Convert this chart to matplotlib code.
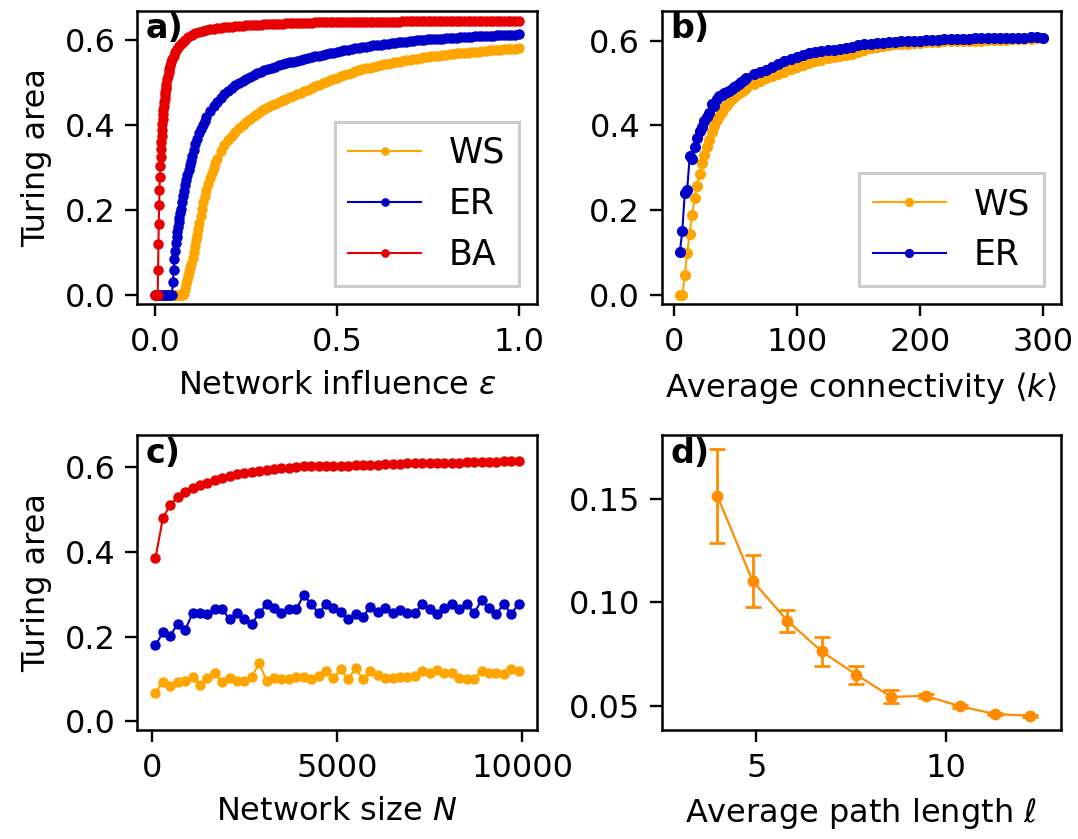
import matplotlib
matplotlib.use("Agg")
import matplotlib.pyplot as plt

OUTPUT_PATH = "out.png"

WS_COLOR = "#ffa500"
ER_COLOR = "#0000c8"
BA_COLOR = "#e60000"
PATH_COLOR = "#ff8c00"

# ---- panel a: Turing area vs network influence eps ----
# the rise of each curve is sampled on its own grid, the tail (eps >= 0.17) on a shared one
EPS_WS_HEAD = [0, 0.005, 0.01, 0.015, 0.02, 0.025, 0.03, 0.035, 0.04, 0.045, 0.05, 0.055, 0.06, 0.065, 0.07, 0.075,
               0.078, 0.081, 0.084, 0.087, 0.090, 0.093, 0.096, 0.099, 0.102, 0.105, 0.108, 0.111, 0.114, 0.117,
               0.120, 0.124, 0.128, 0.132, 0.136, 0.140, 0.145, 0.150, 0.155, 0.160, 0.165]
AREA_WS_HEAD = [0, 0, 0, 0, 0, 0, 0, 0, 0, 0, 0, 0, 0, 0, 0, 0,
                0.005, 0.015, 0.026, 0.036, 0.046, 0.055, 0.063, 0.074, 0.088, 0.102, 0.116, 0.129, 0.142, 0.156,
                0.169, 0.186, 0.203, 0.220, 0.234, 0.247, 0.261, 0.275, 0.288, 0.300, 0.311]

EPS_ER_HEAD = [0, 0.005, 0.01, 0.015, 0.02, 0.025, 0.03, 0.035, 0.04, 0.045,
               0.048, 0.050, 0.052, 0.054, 0.056, 0.058, 0.060, 0.062, 0.064, 0.066, 0.068, 0.070,
               0.073, 0.076, 0.079, 0.082, 0.085, 0.088, 0.091, 0.094, 0.097, 0.100,
               0.105, 0.110, 0.115, 0.120, 0.125, 0.130, 0.135, 0.140, 0.15, 0.16]
AREA_ER_HEAD = [0, 0, 0, 0, 0, 0, 0, 0, 0, 0,
                0.030, 0.060, 0.085, 0.105, 0.122, 0.136, 0.148, 0.160, 0.171, 0.182, 0.193, 0.203,
                0.218, 0.233, 0.246, 0.259, 0.271, 0.283, 0.295, 0.306, 0.316, 0.326,
                0.341, 0.355, 0.368, 0.380, 0.391, 0.401, 0.410, 0.418, 0.432, 0.444]

EPS_BA_HEAD = [0, 0.003, 0.006, 0.007, 0.008, 0.009, 0.010, 0.011, 0.012, 0.013, 0.014, 0.015, 0.016, 0.017,
               0.018, 0.019, 0.020, 0.021, 0.022, 0.023, 0.024, 0.025, 0.026, 0.027, 0.028, 0.029, 0.030,
               0.032, 0.034, 0.036, 0.038, 0.040, 0.043, 0.046, 0.050, 0.055, 0.060, 0.065, 0.070, 0.075,
               0.080, 0.090, 0.100, 0.11, 0.12, 0.13, 0.14, 0.15, 0.16]
AREA_BA_HEAD = [0, 0, 0, 0.060, 0.120, 0.167, 0.212, 0.248, 0.277, 0.304, 0.324, 0.344, 0.360, 0.375,
                0.389, 0.402, 0.414, 0.425, 0.435, 0.445, 0.454, 0.462, 0.470, 0.477, 0.484, 0.490, 0.496,
                0.507, 0.516, 0.524, 0.531, 0.538, 0.547, 0.554, 0.562, 0.571, 0.578, 0.585, 0.590, 0.595,
                0.599, 0.606, 0.611, 0.615, 0.618, 0.621, 0.623, 0.625, 0.626]

EPS_TAIL = [0.17, 0.18, 0.19, 0.20, 0.21, 0.22, 0.23, 0.24, 0.25, 0.26,
            0.27, 0.28, 0.29, 0.30, 0.31, 0.32, 0.33, 0.34, 0.35, 0.36,
            0.37, 0.38, 0.39, 0.40, 0.41, 0.42, 0.43, 0.44, 0.45, 0.46,
            0.47, 0.48, 0.49, 0.50, 0.51, 0.52, 0.53, 0.54, 0.55, 0.56,
            0.57, 0.58, 0.59, 0.60, 0.61, 0.62, 0.63, 0.64, 0.65, 0.66,
            0.67, 0.68, 0.69, 0.70, 0.71, 0.72, 0.73, 0.74, 0.75, 0.76,
            0.77, 0.78, 0.79, 0.80, 0.81, 0.82, 0.83, 0.84, 0.85, 0.86,
            0.87, 0.88, 0.89, 0.90, 0.91, 0.92, 0.93, 0.94, 0.95, 0.96,
            0.97, 0.98, 0.99, 1.00]
AREA_WS_TAIL = [0.321, 0.338, 0.352, 0.364, 0.375, 0.384, 0.392, 0.400, 0.407, 0.414,
                0.420, 0.426, 0.432, 0.437, 0.442, 0.446, 0.450, 0.454, 0.458, 0.462,
                0.466, 0.469, 0.473, 0.476, 0.480, 0.483, 0.487, 0.491, 0.494, 0.498,
                0.501, 0.505, 0.508, 0.511, 0.515, 0.518, 0.520, 0.523, 0.526, 0.528,
                0.531, 0.533, 0.535, 0.537, 0.539, 0.541, 0.543, 0.544, 0.546, 0.548,
                0.549, 0.551, 0.552, 0.553, 0.555, 0.556, 0.558, 0.559, 0.560, 0.561,
                0.562, 0.563, 0.564, 0.565, 0.566, 0.567, 0.568, 0.569, 0.570, 0.570,
                0.571, 0.572, 0.572, 0.573, 0.574, 0.575, 0.575, 0.576, 0.577, 0.578,
                0.578, 0.579, 0.579, 0.580]
AREA_ER_TAIL = [0.455, 0.464, 0.473, 0.480, 0.487, 0.493, 0.499, 0.504, 0.509, 0.513,
                0.517, 0.521, 0.525, 0.528, 0.531, 0.534, 0.537, 0.540, 0.543, 0.545,
                0.547, 0.549, 0.551, 0.553, 0.555, 0.557, 0.559, 0.561, 0.563, 0.565,
                0.567, 0.568, 0.570, 0.572, 0.574, 0.575, 0.577, 0.578, 0.580, 0.581,
                0.583, 0.584, 0.586, 0.587, 0.588, 0.589, 0.590, 0.591, 0.592, 0.593,
                0.594, 0.595, 0.596, 0.597, 0.598, 0.599, 0.600, 0.600, 0.601, 0.601,
                0.602, 0.603, 0.603, 0.604, 0.604, 0.605, 0.605, 0.606, 0.606, 0.607,
                0.607, 0.608, 0.608, 0.609, 0.609, 0.610, 0.610, 0.611, 0.611, 0.611,
                0.612, 0.612, 0.612, 0.613]
AREA_BA_TAIL = [0.628, 0.629, 0.630, 0.631, 0.631, 0.632, 0.633, 0.633, 0.634, 0.635,
                0.635, 0.636, 0.636, 0.637, 0.637, 0.637, 0.638, 0.638, 0.638, 0.639,
                0.639, 0.639, 0.640, 0.640, 0.640, 0.640, 0.640, 0.641, 0.641, 0.641,
                0.641, 0.641, 0.641, 0.642, 0.642, 0.642, 0.642, 0.642, 0.642, 0.642,
                0.642, 0.643, 0.643, 0.643, 0.643, 0.643, 0.643, 0.643, 0.643, 0.643,
                0.643, 0.644, 0.644, 0.644, 0.644, 0.644, 0.644, 0.644, 0.644, 0.644,
                0.644, 0.644, 0.644, 0.644, 0.644, 0.645, 0.645, 0.645, 0.645, 0.645,
                0.645, 0.645, 0.645, 0.645, 0.645, 0.645, 0.645, 0.645, 0.645, 0.645,
                0.645, 0.645, 0.645, 0.645]

# ---- panel b: Turing area vs average connectivity <k> ----
K_MEAN = [5, 7, 9, 11, 13, 15, 17, 19, 21, 23, 25, 27, 29, 31, 33, 35, 37, 39, 41, 43, 45, 47, 49, 51, 53, 55, 57, 59,
          65, 70, 75, 80, 85, 90, 95, 100, 105, 110, 115, 120, 125, 130, 135, 140, 145, 150, 155, 160,
          165, 170, 175, 180, 185, 190, 195, 200, 205, 210, 215, 220, 225, 230, 235, 240, 245, 250, 255, 260,
          265, 270, 275, 280, 285, 290, 295, 300]
AREA_K_WS = [0, 0, 0.048, 0.100, 0.145, 0.190, 0.228, 0.258, 0.285, 0.312, 0.330, 0.350, 0.366, 0.384,
             0.398, 0.412, 0.423, 0.432, 0.441, 0.449, 0.456, 0.462, 0.467, 0.471, 0.476, 0.480, 0.484, 0.488,
             0.498, 0.506, 0.512, 0.516, 0.521, 0.526, 0.532, 0.538, 0.543, 0.548,
             0.551, 0.555, 0.558, 0.561, 0.563, 0.565, 0.569, 0.574, 0.579, 0.583,
             0.585, 0.587, 0.589, 0.591, 0.592, 0.593, 0.594, 0.595, 0.596, 0.597,
             0.597, 0.598, 0.598, 0.599, 0.599, 0.600, 0.600, 0.600, 0.601, 0.601,
             0.602, 0.602, 0.603, 0.603, 0.604, 0.604, 0.605, 0.605]
AREA_K_ER = [0.102, 0.151, 0.241, 0.249, 0.327, 0.322, 0.349, 0.370, 0.386, 0.397, 0.410, 0.420, 0.430, 0.450,
             0.445, 0.462, 0.470, 0.472, 0.476, 0.479, 0.482, 0.485, 0.490, 0.493, 0.497, 0.502, 0.507, 0.511,
             0.521, 0.526, 0.530, 0.537, 0.545, 0.552, 0.557, 0.561, 0.565, 0.570,
             0.573, 0.575, 0.577, 0.579, 0.580, 0.582, 0.585, 0.590, 0.591, 0.593,
             0.594, 0.595, 0.596, 0.597, 0.598, 0.599, 0.600, 0.600, 0.601, 0.601,
             0.602, 0.603, 0.603, 0.604, 0.604, 0.604, 0.605, 0.605, 0.605, 0.605,
             0.606, 0.606, 0.607, 0.607, 0.607, 0.608, 0.608, 0.607]

# ---- panel c: Turing area vs network size N ----
SIZE_N = [100, 300, 500, 700, 900, 1100, 1300, 1500, 1700, 1900,
          2100, 2300, 2500, 2700, 2900, 3100, 3300, 3500, 3700, 3900,
          4100, 4300, 4500, 4700, 4900, 5100, 5300, 5500, 5700, 5900,
          6100, 6300, 6500, 6700, 6900, 7100, 7300, 7500, 7700, 7900,
          8100, 8300, 8500, 8700, 8900, 9100, 9300, 9500, 9700, 9900]
AREA_N_WS = [0.067, 0.094, 0.084, 0.092, 0.096, 0.106, 0.086, 0.102, 0.115, 0.092,
             0.102, 0.096, 0.096, 0.106, 0.137, 0.096, 0.102, 0.100, 0.100, 0.104,
             0.104, 0.100, 0.107, 0.120, 0.102, 0.123, 0.100, 0.125, 0.100, 0.118,
             0.110, 0.102, 0.102, 0.104, 0.104, 0.107, 0.118, 0.115, 0.122, 0.114,
             0.114, 0.102, 0.100, 0.100, 0.120, 0.115, 0.114, 0.112, 0.123, 0.120]
AREA_N_ER = [0.180, 0.210, 0.202, 0.231, 0.216, 0.255, 0.256, 0.253, 0.265, 0.265,
             0.241, 0.255, 0.242, 0.231, 0.255, 0.278, 0.267, 0.255, 0.265, 0.265,
             0.298, 0.278, 0.255, 0.277, 0.268, 0.259, 0.242, 0.253, 0.247, 0.271,
             0.259, 0.267, 0.255, 0.264, 0.255, 0.255, 0.277, 0.265, 0.253, 0.268,
             0.278, 0.265, 0.278, 0.256, 0.286, 0.267, 0.253, 0.278, 0.253, 0.278]
AREA_N_BA = [0.386, 0.480, 0.512, 0.530, 0.541, 0.550, 0.557, 0.563, 0.569, 0.575,
             0.580, 0.584, 0.587, 0.589, 0.590, 0.593, 0.596, 0.598, 0.599, 0.601,
             0.602, 0.602, 0.603, 0.603, 0.604, 0.604, 0.604, 0.605, 0.605, 0.606,
             0.606, 0.607, 0.608, 0.608, 0.609, 0.609, 0.610, 0.610, 0.610, 0.611,
             0.611, 0.611, 0.612, 0.612, 0.613, 0.613, 0.613, 0.614, 0.614, 0.615]

# ---- panel d: Turing area vs average path length ----
PATH_LEN = [3.97, 4.90, 5.82, 6.73, 7.64, 8.56, 9.47, 10.39, 11.31, 12.24]
AREA_PATH = [0.1513, 0.1103, 0.0910, 0.0762, 0.0650, 0.0543, 0.0548, 0.0497, 0.0460, 0.0452]
AREA_PATH_ERR = [0.0227, 0.0127, 0.0054, 0.0070, 0.0044, 0.0031, 0.0010, 0.0006, 0.0005, 0.0004]

plt.rcParams.update({
    "font.family": "DejaVu Sans",
    "font.size": 23,
    "axes.linewidth": 1.8,
    "axes.labelpad": 9,
    "xtick.major.size": 8.5,
    "ytick.major.size": 8.5,
    "xtick.major.width": 1.7,
    "ytick.major.width": 1.7,
    "xtick.major.pad": 8,
    "ytick.major.pad": 7,
    "mathtext.fontset": "dejavusans",
})

DENSE_KW = dict(marker="o", markersize=6.5, linewidth=1.5)
LINE_KW = dict(marker="o", markersize=6.5, linewidth=1.5)


def panel_label(ax, text):
    ax.text(0.022, 0.995, text, transform=ax.transAxes, ha="left", va="top",
            fontsize=24, fontweight="bold")


def style_legend(ax):
    leg = ax.legend(loc="lower right", fontsize=25, fancybox=False, framealpha=1,
                    edgecolor="#cccccc", handlelength=2.1, markerscale=0.8)
    leg.get_frame().set_linewidth(2.2)


fig = plt.figure(figsize=(10.78, 8.39), dpi=100)
ax_a = fig.add_axes([0.1274, 0.638, 0.3705, 0.349])
ax_b = fig.add_axes([0.6138, 0.638, 0.3705, 0.349])
ax_c = fig.add_axes([0.1274, 0.130, 0.3705, 0.351])
ax_d = fig.add_axes([0.6138, 0.130, 0.3705, 0.351])

# a)
ax_a.plot(EPS_WS_HEAD + EPS_TAIL, AREA_WS_HEAD + AREA_WS_TAIL, color=WS_COLOR, label="WS", **DENSE_KW)
ax_a.plot(EPS_ER_HEAD + EPS_TAIL, AREA_ER_HEAD + AREA_ER_TAIL, color=ER_COLOR, label="ER", **DENSE_KW)
ax_a.plot(EPS_BA_HEAD + EPS_TAIL, AREA_BA_HEAD + AREA_BA_TAIL, color=BA_COLOR, label="BA", **DENSE_KW)
ax_a.set_ylim(-0.02, 0.668)
ax_a.set_xticks([0.0, 0.5, 1.0])
ax_a.set_yticks([0.0, 0.2, 0.4, 0.6])
ax_a.set_xlabel(r"Network influence $\varepsilon$")
ax_a.set_ylabel("Turing area")
style_legend(ax_a)
panel_label(ax_a, "a)")

# b)
ax_b.plot(K_MEAN, AREA_K_WS, color=WS_COLOR, label="WS", marker="o", markersize=7, linewidth=1.5)
ax_b.plot(K_MEAN, AREA_K_ER, color=ER_COLOR, label="ER", marker="o", markersize=7, linewidth=1.5)
ax_b.set_ylim(-0.02, 0.67)
ax_b.set_xticks([0, 100, 200, 300])
ax_b.set_yticks([0.0, 0.2, 0.4, 0.6])
ax_b.set_xlabel(r"Average connectivity $\langle k\rangle$")
style_legend(ax_b)
panel_label(ax_b, "b)")

# c)
ax_c.plot(SIZE_N, AREA_N_WS, color=WS_COLOR, **LINE_KW)
ax_c.plot(SIZE_N, AREA_N_ER, color=ER_COLOR, **LINE_KW)
ax_c.plot(SIZE_N, AREA_N_BA, color=BA_COLOR, **LINE_KW)
ax_c.set_ylim(-0.02, 0.675)
ax_c.set_xticks([0, 5000, 10000])
ax_c.set_yticks([0.0, 0.2, 0.4, 0.6])
ax_c.set_xlabel(r"Network size $N$")
ax_c.set_ylabel("Turing area")
panel_label(ax_c, "c)")

# d)
ax_d.errorbar(PATH_LEN, AREA_PATH, yerr=AREA_PATH_ERR, color=PATH_COLOR, marker="o",
              markersize=7.5, linewidth=1.6, capsize=5.5, capthick=2, elinewidth=2)
ax_d.set_xlim(2.5, 13.05)
ax_d.set_xticks([5, 10])
ax_d.set_yticks([0.05, 0.10, 0.15])
ax_d.set_yticklabels(["0.05", "0.10", "0.15"])
ax_d.set_xlabel(r"Average path length $\ell$")
panel_label(ax_d, "d)")

fig.savefig(OUTPUT_PATH, dpi=100)
plt.close(fig)
